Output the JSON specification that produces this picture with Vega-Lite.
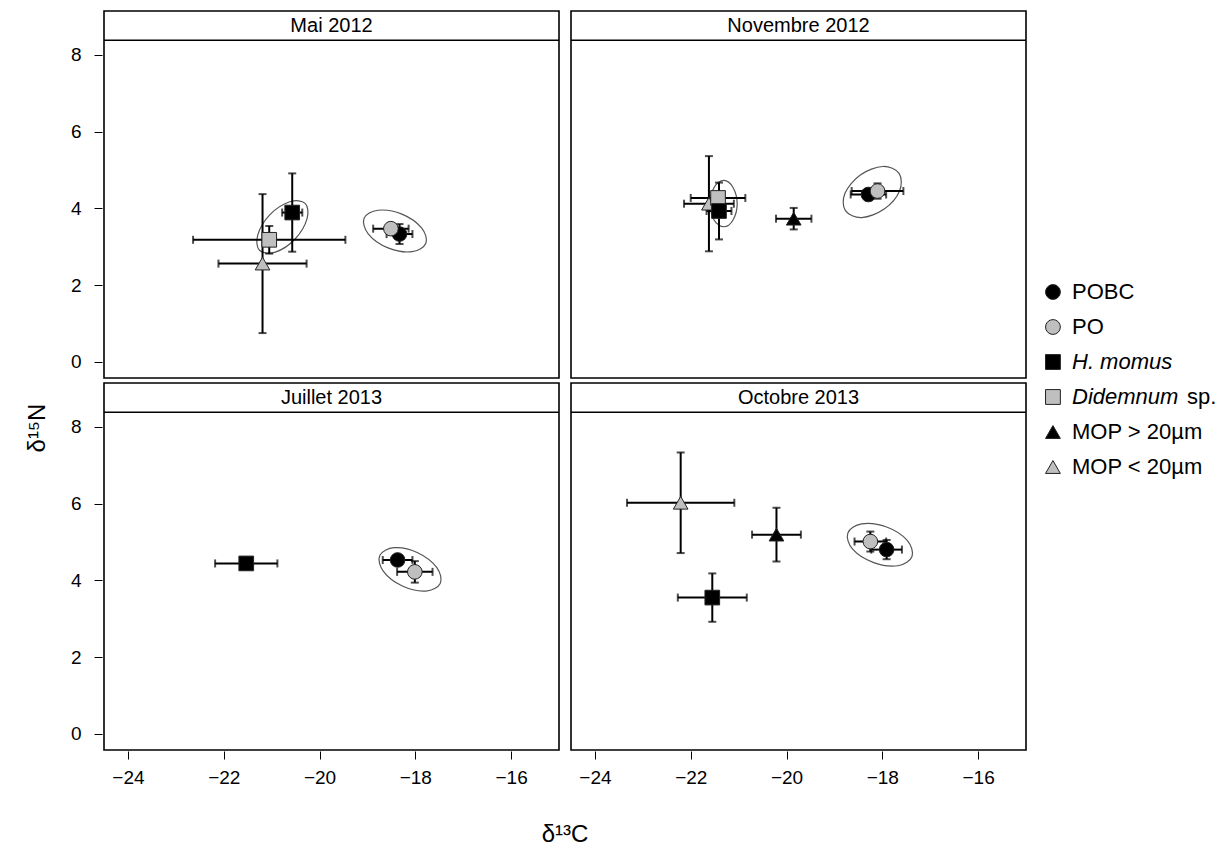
{
  "$schema": "https://vega.github.io/schema/vega-lite/v6.json",
  "background": "white",
  "padding": {"left": 26, "top": 9, "right": 0, "bottom": 0},
  "config": {
    "font": "Liberation Sans",
    "view": {"stroke": "black", "strokeWidth": 1.6},
    "axis": {"grid": false, "domain": false, "tickColor": "black", "tickSize": 8, "tickWidth": 1, "labelFontSize": 19, "labelColor": "black", "labelFont": "Liberation Sans"},
    "axisX": {"labelPadding": 9},
    "axisY": {"labelPadding": 13},
    "concat": {"spacing": 5}
  },
  "datasets": {
    "pts": [
      {"kind": "lab", "panel": "Mai 2012"},
      {"kind": "lab", "panel": "Novembre 2012"},
      {"kind": "lab", "panel": "Juillet 2013"},
      {"kind": "lab", "panel": "Octobre 2013"},
      {"kind": "pt", "panel": "Mai 2012", "grp": "MOP < 20µm", "c": -21.19, "sc": 0.92, "n": 2.56, "sn": 1.81},
      {"kind": "pt", "panel": "Mai 2012", "grp": "Didemnum sp.", "c": -21.05, "sc": 1.59, "n": 3.18, "sn": 0.36},
      {"kind": "pt", "panel": "Mai 2012", "grp": "H. momus", "c": -20.57, "sc": 0.21, "n": 3.89, "sn": 1.02},
      {"kind": "pt", "panel": "Mai 2012", "grp": "POBC", "c": -18.33, "sc": 0.27, "n": 3.33, "sn": 0.26},
      {"kind": "pt", "panel": "Mai 2012", "grp": "PO", "c": -18.51, "sc": 0.37, "n": 3.47, "sn": 0.12},
      {"kind": "pt", "panel": "Novembre 2012", "grp": "MOP < 20µm", "c": -21.62, "sc": 0.52, "n": 4.12, "sn": 1.24},
      {"kind": "pt", "panel": "Novembre 2012", "grp": "Didemnum sp.", "c": -21.43, "sc": 0.57, "n": 4.27, "sn": 0.12},
      {"kind": "pt", "panel": "Novembre 2012", "grp": "H. momus", "c": -21.41, "sc": 0.26, "n": 3.93, "sn": 0.74},
      {"kind": "pt", "panel": "Novembre 2012", "grp": "MOP > 20µm", "c": -19.85, "sc": 0.37, "n": 3.73, "sn": 0.28},
      {"kind": "pt", "panel": "Novembre 2012", "grp": "POBC", "c": -18.29, "sc": 0.37, "n": 4.36, "sn": 0.15},
      {"kind": "pt", "panel": "Novembre 2012", "grp": "PO", "c": -18.1, "sc": 0.54, "n": 4.45, "sn": 0.2},
      {"kind": "pt", "panel": "Juillet 2013", "grp": "H. momus", "c": -21.53, "sc": 0.65, "n": 4.44, "sn": 0.08},
      {"kind": "pt", "panel": "Juillet 2013", "grp": "POBC", "c": -18.37, "sc": 0.31, "n": 4.53, "sn": 0.08},
      {"kind": "pt", "panel": "Juillet 2013", "grp": "PO", "c": -18.01, "sc": 0.37, "n": 4.22, "sn": 0.28},
      {"kind": "pt", "panel": "Octobre 2013", "grp": "MOP < 20µm", "c": -22.21, "sc": 1.12, "n": 6.02, "sn": 1.31},
      {"kind": "pt", "panel": "Octobre 2013", "grp": "H. momus", "c": -21.55, "sc": 0.72, "n": 3.55, "sn": 0.63},
      {"kind": "pt", "panel": "Octobre 2013", "grp": "MOP > 20µm", "c": -20.21, "sc": 0.51, "n": 5.19, "sn": 0.7},
      {"kind": "pt", "panel": "Octobre 2013", "grp": "PO", "c": -18.25, "sc": 0.33, "n": 5.01, "sn": 0.26},
      {"kind": "pt", "panel": "Octobre 2013", "grp": "POBC", "c": -17.91, "sc": 0.32, "n": 4.8, "sn": 0.25},
      {"kind": "ell", "panel": "Mai 2012", "eid": "e1", "ord": 0, "c": -20.30, "n": 4.13},
      {"kind": "ell", "panel": "Mai 2012", "eid": "e1", "ord": 1, "c": -20.26, "n": 3.73},
      {"kind": "ell", "panel": "Mai 2012", "eid": "e1", "ord": 2, "c": -20.51, "n": 3.20},
      {"kind": "ell", "panel": "Mai 2012", "eid": "e1", "ord": 3, "c": -20.92, "n": 2.86},
      {"kind": "ell", "panel": "Mai 2012", "eid": "e1", "ord": 4, "c": -21.25, "n": 2.90},
      {"kind": "ell", "panel": "Mai 2012", "eid": "e1", "ord": 5, "c": -21.29, "n": 3.30},
      {"kind": "ell", "panel": "Mai 2012", "eid": "e1", "ord": 6, "c": -21.04, "n": 3.83},
      {"kind": "ell", "panel": "Mai 2012", "eid": "e1", "ord": 7, "c": -20.62, "n": 4.17},
      {"kind": "ell", "panel": "Mai 2012", "eid": "e2", "ord": 0, "c": -17.78, "n": 3.09},
      {"kind": "ell", "panel": "Mai 2012", "eid": "e2", "ord": 1, "c": -18.07, "n": 2.87},
      {"kind": "ell", "panel": "Mai 2012", "eid": "e2", "ord": 2, "c": -18.57, "n": 2.97},
      {"kind": "ell", "panel": "Mai 2012", "eid": "e2", "ord": 3, "c": -18.98, "n": 3.33},
      {"kind": "ell", "panel": "Mai 2012", "eid": "e2", "ord": 4, "c": -19.07, "n": 3.74},
      {"kind": "ell", "panel": "Mai 2012", "eid": "e2", "ord": 5, "c": -18.78, "n": 3.95},
      {"kind": "ell", "panel": "Mai 2012", "eid": "e2", "ord": 6, "c": -18.28, "n": 3.85},
      {"kind": "ell", "panel": "Mai 2012", "eid": "e2", "ord": 7, "c": -17.87, "n": 3.49},
      {"kind": "ell", "panel": "Novembre 2012", "eid": "e3", "ord": 0, "c": -21.31, "n": 4.73},
      {"kind": "ell", "panel": "Novembre 2012", "eid": "e3", "ord": 1, "c": -21.12, "n": 4.55},
      {"kind": "ell", "panel": "Novembre 2012", "eid": "e3", "ord": 2, "c": -21.03, "n": 4.12},
      {"kind": "ell", "panel": "Novembre 2012", "eid": "e3", "ord": 3, "c": -21.12, "n": 3.69},
      {"kind": "ell", "panel": "Novembre 2012", "eid": "e3", "ord": 4, "c": -21.31, "n": 3.52},
      {"kind": "ell", "panel": "Novembre 2012", "eid": "e3", "ord": 5, "c": -21.51, "n": 3.69},
      {"kind": "ell", "panel": "Novembre 2012", "eid": "e3", "ord": 6, "c": -21.59, "n": 4.12},
      {"kind": "ell", "panel": "Novembre 2012", "eid": "e3", "ord": 7, "c": -21.51, "n": 4.55},
      {"kind": "ell", "panel": "Novembre 2012", "eid": "e4", "ord": 0, "c": -17.65, "n": 4.91},
      {"kind": "ell", "panel": "Novembre 2012", "eid": "e4", "ord": 1, "c": -17.64, "n": 4.45},
      {"kind": "ell", "panel": "Novembre 2012", "eid": "e4", "ord": 2, "c": -17.96, "n": 3.98},
      {"kind": "ell", "panel": "Novembre 2012", "eid": "e4", "ord": 3, "c": -18.43, "n": 3.76},
      {"kind": "ell", "panel": "Novembre 2012", "eid": "e4", "ord": 4, "c": -18.77, "n": 3.94},
      {"kind": "ell", "panel": "Novembre 2012", "eid": "e4", "ord": 5, "c": -18.78, "n": 4.39},
      {"kind": "ell", "panel": "Novembre 2012", "eid": "e4", "ord": 6, "c": -18.46, "n": 4.87},
      {"kind": "ell", "panel": "Novembre 2012", "eid": "e4", "ord": 7, "c": -17.99, "n": 5.09},
      {"kind": "ell", "panel": "Juillet 2013", "eid": "e5", "ord": 0, "c": -17.48, "n": 3.92},
      {"kind": "ell", "panel": "Juillet 2013", "eid": "e5", "ord": 1, "c": -17.78, "n": 3.72},
      {"kind": "ell", "panel": "Juillet 2013", "eid": "e5", "ord": 2, "c": -18.27, "n": 3.85},
      {"kind": "ell", "panel": "Juillet 2013", "eid": "e5", "ord": 3, "c": -18.67, "n": 4.24},
      {"kind": "ell", "panel": "Juillet 2013", "eid": "e5", "ord": 4, "c": -18.74, "n": 4.65},
      {"kind": "ell", "panel": "Juillet 2013", "eid": "e5", "ord": 5, "c": -18.44, "n": 4.85},
      {"kind": "ell", "panel": "Juillet 2013", "eid": "e5", "ord": 6, "c": -17.95, "n": 4.72},
      {"kind": "ell", "panel": "Juillet 2013", "eid": "e5", "ord": 7, "c": -17.55, "n": 4.33},
      {"kind": "ell", "panel": "Octobre 2013", "eid": "e6", "ord": 0, "c": -17.38, "n": 4.62},
      {"kind": "ell", "panel": "Octobre 2013", "eid": "e6", "ord": 1, "c": -17.67, "n": 4.38},
      {"kind": "ell", "panel": "Octobre 2013", "eid": "e6", "ord": 2, "c": -18.18, "n": 4.46},
      {"kind": "ell", "panel": "Octobre 2013", "eid": "e6", "ord": 3, "c": -18.62, "n": 4.81},
      {"kind": "ell", "panel": "Octobre 2013", "eid": "e6", "ord": 4, "c": -18.72, "n": 5.23},
      {"kind": "ell", "panel": "Octobre 2013", "eid": "e6", "ord": 5, "c": -18.43, "n": 5.47},
      {"kind": "ell", "panel": "Octobre 2013", "eid": "e6", "ord": 6, "c": -17.91, "n": 5.39},
      {"kind": "ell", "panel": "Octobre 2013", "eid": "e6", "ord": 7, "c": -17.48, "n": 5.04}
    ],
    "leg": [
      {"grp": "POBC", "plain": "POBC"},
      {"grp": "PO", "plain": "PO"},
      {"grp": "H. momus", "taxon": "H. momus"},
      {"grp": "Didemnum sp.", "taxon": "Didemnum", "suffix": "sp."},
      {"grp": "MOP > 20µm", "plain": "MOP > 20µm"},
      {"grp": "MOP < 20µm", "plain": "MOP < 20µm"}
    ]
  },
  "hconcat": [
    {
      "data": {"name": "pts"},
      "title": {"text": "δ¹⁵N", "orient": "left", "anchor": "middle", "fontSize": 24, "fontWeight": "normal", "offset": 20, "color": "black", "font": "Liberation Sans"},
      "facet": {
        "field": "panel", "type": "nominal",
        "sort": ["Mai 2012", "Novembre 2012", "Juillet 2013", "Octobre 2013"],
        "title": "δ¹³C",
        "header": {"labelExpr": "''", "labelPadding": 0, "labelFontSize": 1, "titleOrient": "bottom", "titleFontSize": 24, "titleFontWeight": "normal", "titleColor": "black", "titleFont": "Liberation Sans", "titlePadding": 36}
      },
      "columns": 2,
      "spacing": {"row": 2, "column": 8},
      "spec": {
        "width": 455,
        "height": 367,
        "layer": [
          {
            "transform": [{"filter": "datum.kind == 'ell'"}],
            "mark": {"type": "line", "interpolate": "cardinal-closed", "stroke": "#555555", "strokeWidth": 1.2},
            "encoding": {
              "x": {"field": "c", "type": "quantitative", "title": null, "scale": {"domain": [-24.5, -15], "nice": false, "zero": false}, "axis": {"values": [-24, -22, -20, -18, -16]}},
              "y": {"field": "n", "type": "quantitative", "title": null, "scale": {"domain": [-0.42, 9.14], "nice": false, "zero": false}, "axis": {"values": [0, 2, 4, 6, 8]}},
              "detail": {"field": "eid"},
              "order": {"field": "ord", "type": "quantitative"}
            }
          },
          {
            "transform": [{"filter": "datum.kind == 'pt'"}],
            "mark": {"type": "errorbar", "ticks": true, "size": 8, "thickness": 2, "color": "black"},
            "encoding": {
              "x": {"field": "c", "type": "quantitative", "title": null},
              "xError": {"field": "sc"},
              "y": {"field": "n", "type": "quantitative", "title": null}
            }
          },
          {
            "transform": [{"filter": "datum.kind == 'pt'"}],
            "mark": {"type": "errorbar", "ticks": true, "size": 8, "thickness": 2, "color": "black"},
            "encoding": {
              "y": {"field": "n", "type": "quantitative", "title": null},
              "yError": {"field": "sn"},
              "x": {"field": "c", "type": "quantitative", "title": null}
            }
          },
          {
            "transform": [{"filter": "datum.kind == 'pt'"}],
            "mark": {"type": "point", "filled": true, "size": 215, "stroke": "#222222", "strokeWidth": 1, "opacity": 1},
            "encoding": {
              "x": {"field": "c", "type": "quantitative", "title": null},
              "y": {"field": "n", "type": "quantitative", "title": null},
              "shape": {"field": "grp", "type": "nominal", "legend": null, "scale": {"domain": ["POBC", "PO", "H. momus", "Didemnum sp.", "MOP > 20µm", "MOP < 20µm"], "range": ["circle", "circle", "square", "square", "triangle-up", "triangle-up"]}},
              "fill": {"field": "grp", "type": "nominal", "legend": null, "scale": {"domain": ["POBC", "PO", "H. momus", "Didemnum sp.", "MOP > 20µm", "MOP < 20µm"], "range": ["#000000", "#bfbfbf", "#000000", "#bfbfbf", "#000000", "#bfbfbf"]}}
            }
          },
          {
            "transform": [{"filter": "datum.kind == 'lab'"}],
            "mark": {"type": "rule", "color": "black", "strokeWidth": 1.6},
            "encoding": {"y": {"datum": 8.38}}
          },
          {
            "transform": [{"filter": "datum.kind == 'lab'"}],
            "mark": {"type": "text", "fontSize": 20, "align": "center", "baseline": "middle", "color": "black", "font": "Liberation Sans"},
            "encoding": {
              "x": {"datum": -19.75},
              "y": {"datum": 8.76},
              "text": {"field": "panel"}
            }
          }
        ]
      }
    },
    {
      "data": {"name": "leg"},
      "width": 180,
      "height": 739,
      "view": {"stroke": null},
      "layer": [
        {
          "mark": {"type": "point", "filled": true, "size": 220, "stroke": "#222222", "strokeWidth": 1, "opacity": 1},
          "encoding": {
            "x": {"datum": 1.33, "scale": {"domain": [0, 12]}, "axis": null},
            "y": {"field": "grp", "type": "nominal", "axis": null, "scale": {"type": "point", "domain": ["POBC", "PO", "H. momus", "Didemnum sp.", "MOP > 20µm", "MOP < 20µm"], "range": [281, 456], "padding": 0}},
            "shape": {"field": "grp", "type": "nominal", "legend": null, "scale": {"domain": ["POBC", "PO", "H. momus", "Didemnum sp.", "MOP > 20µm", "MOP < 20µm"], "range": ["circle", "circle", "square", "square", "triangle-up", "triangle-up"]}},
            "fill": {"field": "grp", "type": "nominal", "legend": null, "scale": {"domain": ["POBC", "PO", "H. momus", "Didemnum sp.", "MOP > 20µm", "MOP < 20µm"], "range": ["#000000", "#bfbfbf", "#000000", "#bfbfbf", "#000000", "#bfbfbf"]}}
          }
        },
        {
          "transform": [{"filter": "isValid(datum.plain)"}],
          "mark": {"type": "text", "align": "left", "baseline": "middle", "fontSize": 22, "color": "black", "font": "Liberation Sans"},
          "encoding": {
            "x": {"datum": 2.6},
            "y": {"field": "grp", "type": "nominal"},
            "text": {"field": "plain"}
          }
        },
        {
          "transform": [{"filter": "isValid(datum.taxon)"}],
          "mark": {"type": "text", "align": "left", "baseline": "middle", "fontSize": 22, "fontStyle": "italic", "color": "black", "font": "Liberation Sans"},
          "encoding": {
            "x": {"datum": 2.6},
            "y": {"field": "grp", "type": "nominal"},
            "text": {"field": "taxon"}
          }
        },
        {
          "transform": [{"filter": "isValid(datum.suffix)"}],
          "mark": {"type": "text", "align": "left", "baseline": "middle", "fontSize": 22, "color": "black", "font": "Liberation Sans"},
          "encoding": {
            "x": {"datum": 10.27},
            "y": {"field": "grp", "type": "nominal"},
            "text": {"field": "suffix"}
          }
        }
      ]
    }
  ]
}
